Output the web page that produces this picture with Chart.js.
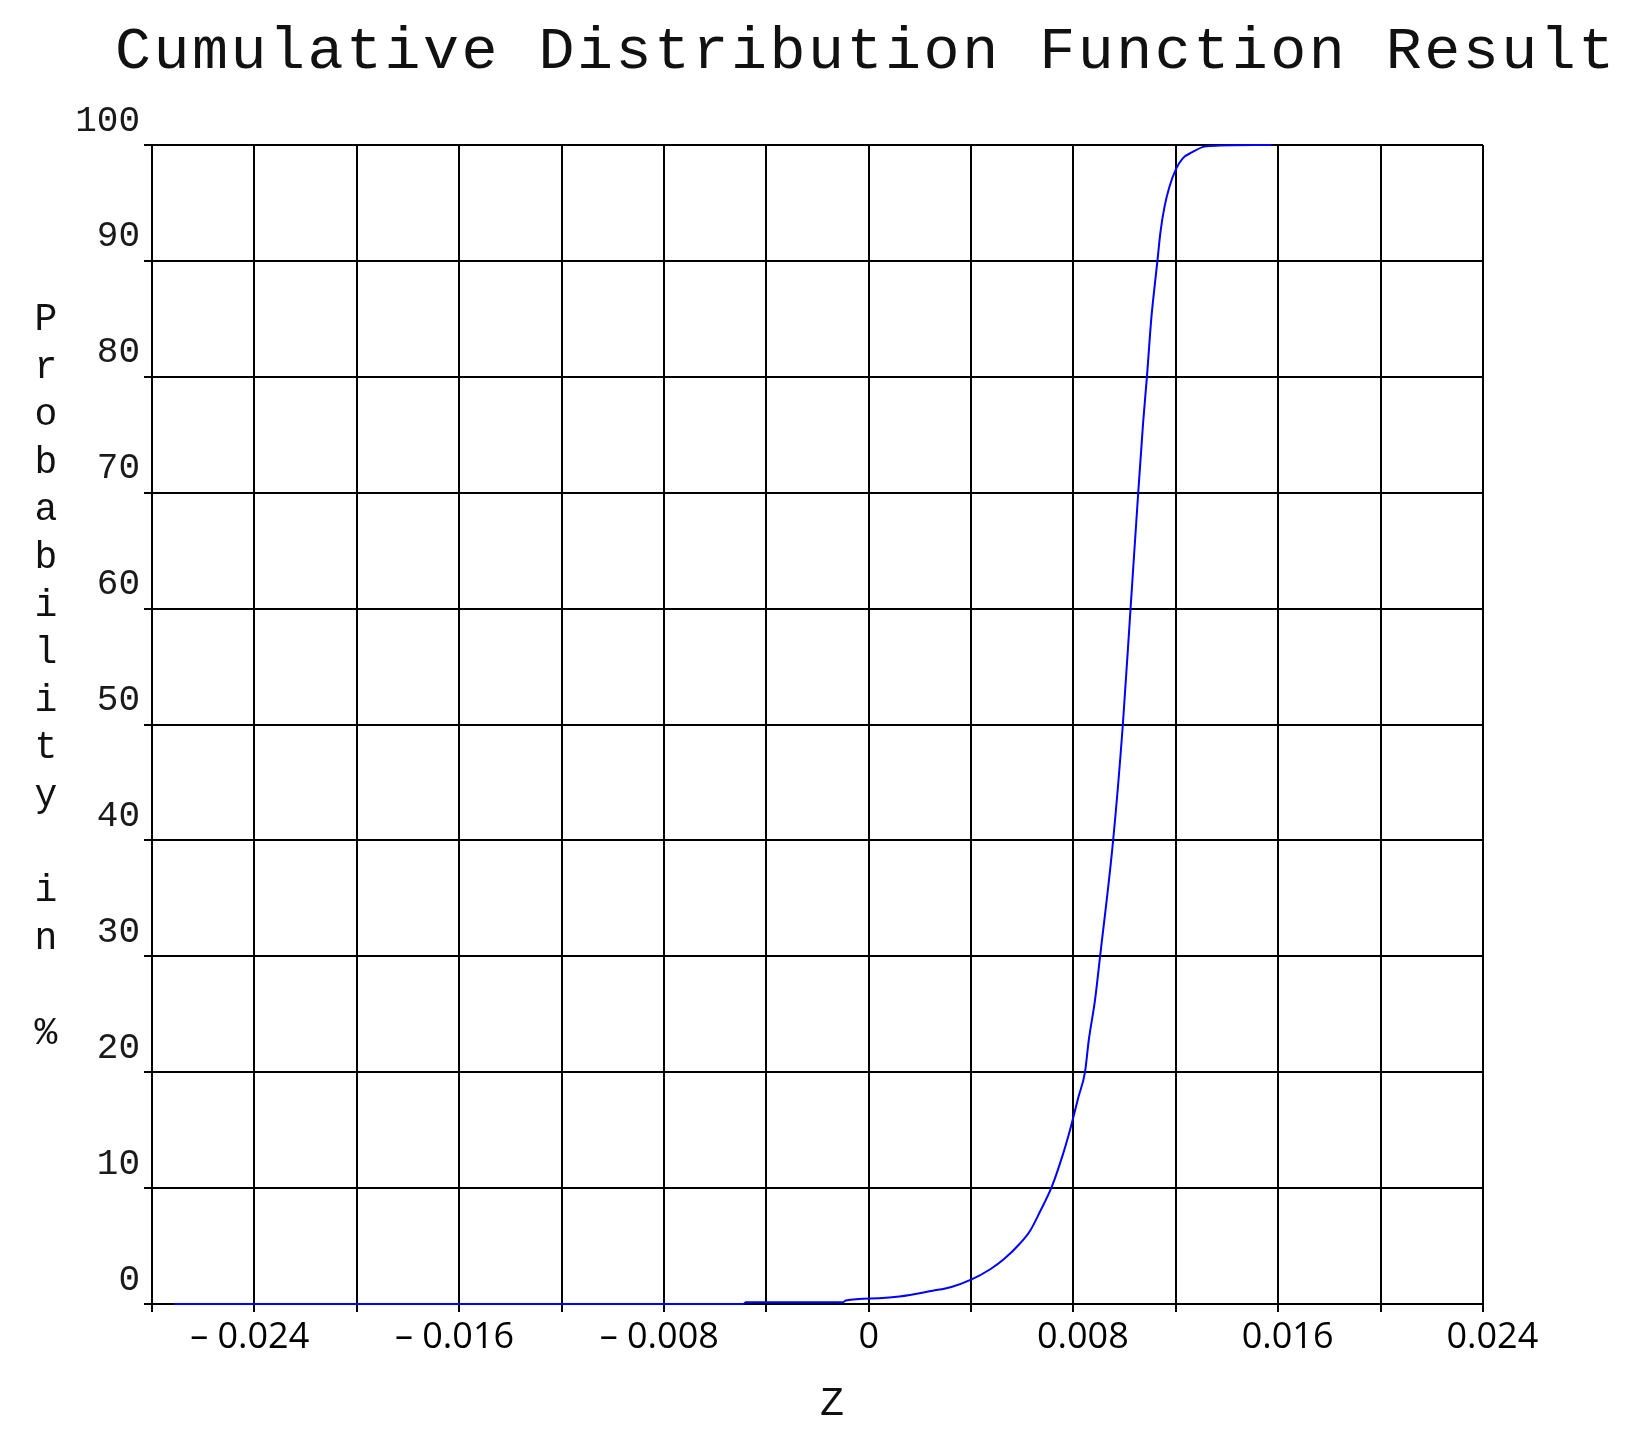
<!DOCTYPE html>
<html>
<head>
<meta charset="utf-8">
<title>Cumulative Distribution Function Result</title>
<script src="https://cdn.jsdelivr.net/npm/chart.js@4/dist/chart.umd.min.js"></script>
<style>
    html, body {
        margin: 0;
        padding: 0;
        background: #ffffff;
    }
    .chart-wrapper {
        position: relative;
        width: 1646px;
        height: 1433px;
    }
</style>
</head>
<body>
<div class="chart-wrapper">
    <canvas id="cdf"></canvas>
</div>
<script>
// values
const zValues = [
    -0.02713, -0.0049, -0.0048, -0.0010, -0.0009, 0.0004, 0.0012, 0.0025,
    0.0032, 0.0040, 0.00475, 0.0053, 0.0059, 0.0063, 0.0067, 0.00715,
    0.0076, 0.0079, 0.0082, 0.00845, 0.0086, 0.00884, 0.00904, 0.00955,
    0.00993, 0.01023, 0.01053, 0.01072, 0.01087, 0.01104, 0.01118, 0.01128,
    0.01140, 0.01156, 0.01175, 0.0120, 0.01227, 0.01266, 0.01311, 0.0137,
    0.01574
];
const probValues = [
    0, 0, 0.15, 0.15, 0.3, 0.5, 0.65, 1.15,
    1.45, 2.1, 3.0, 3.9, 5.2, 6.3, 8.0, 10.1,
    13.0, 15.3, 17.9, 20.0, 22.8, 26.2, 30, 40,
    50, 60, 70, 76, 80, 85, 88, 90,
    92.5, 94.7, 96.4, 97.9, 98.85, 99.4, 99.86, 99.95,
    100
];
const xGridValues = [
    -0.028, -0.024, -0.020, -0.016, -0.012, -0.008, -0.004,
    0, 0.004, 0.008, 0.012, 0.016, 0.020, 0.024
];
const xTickLabels = ['\u2013 0.024', '\u2013 0.016', '\u2013 0.008', '0', '0.008', '0.016', '0.024'];
const yTickValues = [0, 10, 20, 30, 40, 50, 60, 70, 80, 90, 100];

const chartTitle = 'Cumulative Distribution Function Result';
const xTitle = 'Z';
const yTitle = 'Probability in %';

const GRID = '#000';

// titles are placed by hand: the y title is stacked letter by letter
const titlesPlugin = {
    id: 'titles',
    afterDraw(chart) {
        const ctx = chart.ctx;
        ctx.save();
        ctx.fillStyle = '#111';
        ctx.textBaseline = 'alphabetic';

        ctx.font = '60px "Liberation Mono"';
        ctx.letterSpacing = '2.5px';
        ctx.textAlign = 'left';
        ctx.fillText(chartTitle, 115, 68);
        ctx.letterSpacing = '0px';

        ctx.font = '38px "Liberation Mono"';
        ctx.textAlign = 'center';
        [...yTitle].forEach((ch, i) => {
            if (ch !== ' ') ctx.fillText(ch, 46, 330 + i * 47.6);
        });

        ctx.font = '40px "Liberation Mono"';
        ctx.fillText(xTitle, 832, 1415);
        ctx.restore();
    }
};

// the original nudges positive labels right and negative ones left
function xLabel(value, index) {
    if (index % 2 === 0) return '';
    const text = xTickLabels[(index - 1) / 2];
    if (value > 0) return '  ' + text;
    if (value < 0) return text + ' ';
    return text;
}

new Chart(document.getElementById('cdf'), {
    type: 'scatter',
    data: {
        datasets: [{
            label: 'CDF',
            data: zValues.map((z, i) => ({ x: z, y: probValues[i] })),
            showLine: true,
            borderColor: '#0000ff',
            backgroundColor: '#0000ff',
            borderWidth: 2,
            pointRadius: 0,
            cubicInterpolationMode: 'monotone',
            clip: false,
        }],
    },
    options: {
        responsive: true,
        maintainAspectRatio: false,
        animation: false,
        layout: {
            padding: { top: 145, right: 163, bottom: 0, left: 0 },
        },
        plugins: {
            legend: { display: false },
            title: { display: false },
            tooltip: { enabled: false },
        },
        scales: {
            x: {
                type: 'linear',
                min: -0.028,
                max: 0.024,
                afterBuildTicks: s => { s.ticks = xGridValues.map(v => ({ value: v })); },
                afterFit: s => { s.height = 129; },
                ticks: {
                    autoSkip: false,
                    maxRotation: 0,
                    padding: 4,
                    color: '#000',
                    font: { family: '"Open Sans"', size: 36, lineHeight: 1.2 },
                    callback: xLabel,
                },
                grid: {
                    color: GRID,
                    lineWidth: 2,
                    tickLength: 8,
                    drawTicks: true,
                },
                border: { color: '#000', width: 2 },
            },
            y: {
                min: 0,
                max: 100,
                afterBuildTicks: s => { s.ticks = yTickValues.map(v => ({ value: v })); },
                afterFit: s => { s.width = 152; },
                ticks: {
                    autoSkip: false,
                    padding: 4,
                    labelOffset: -24,
                    color: '#1a1a1a',
                    font: { family: '"Liberation Mono"', size: 36 },
                },
                grid: {
                    color: GRID,
                    lineWidth: 2,
                    tickLength: 8,
                    drawTicks: true,
                },
                border: { color: '#000', width: 2 },
            },
        },
    },
    plugins: [titlesPlugin],
});
</script>
</body>
</html>
